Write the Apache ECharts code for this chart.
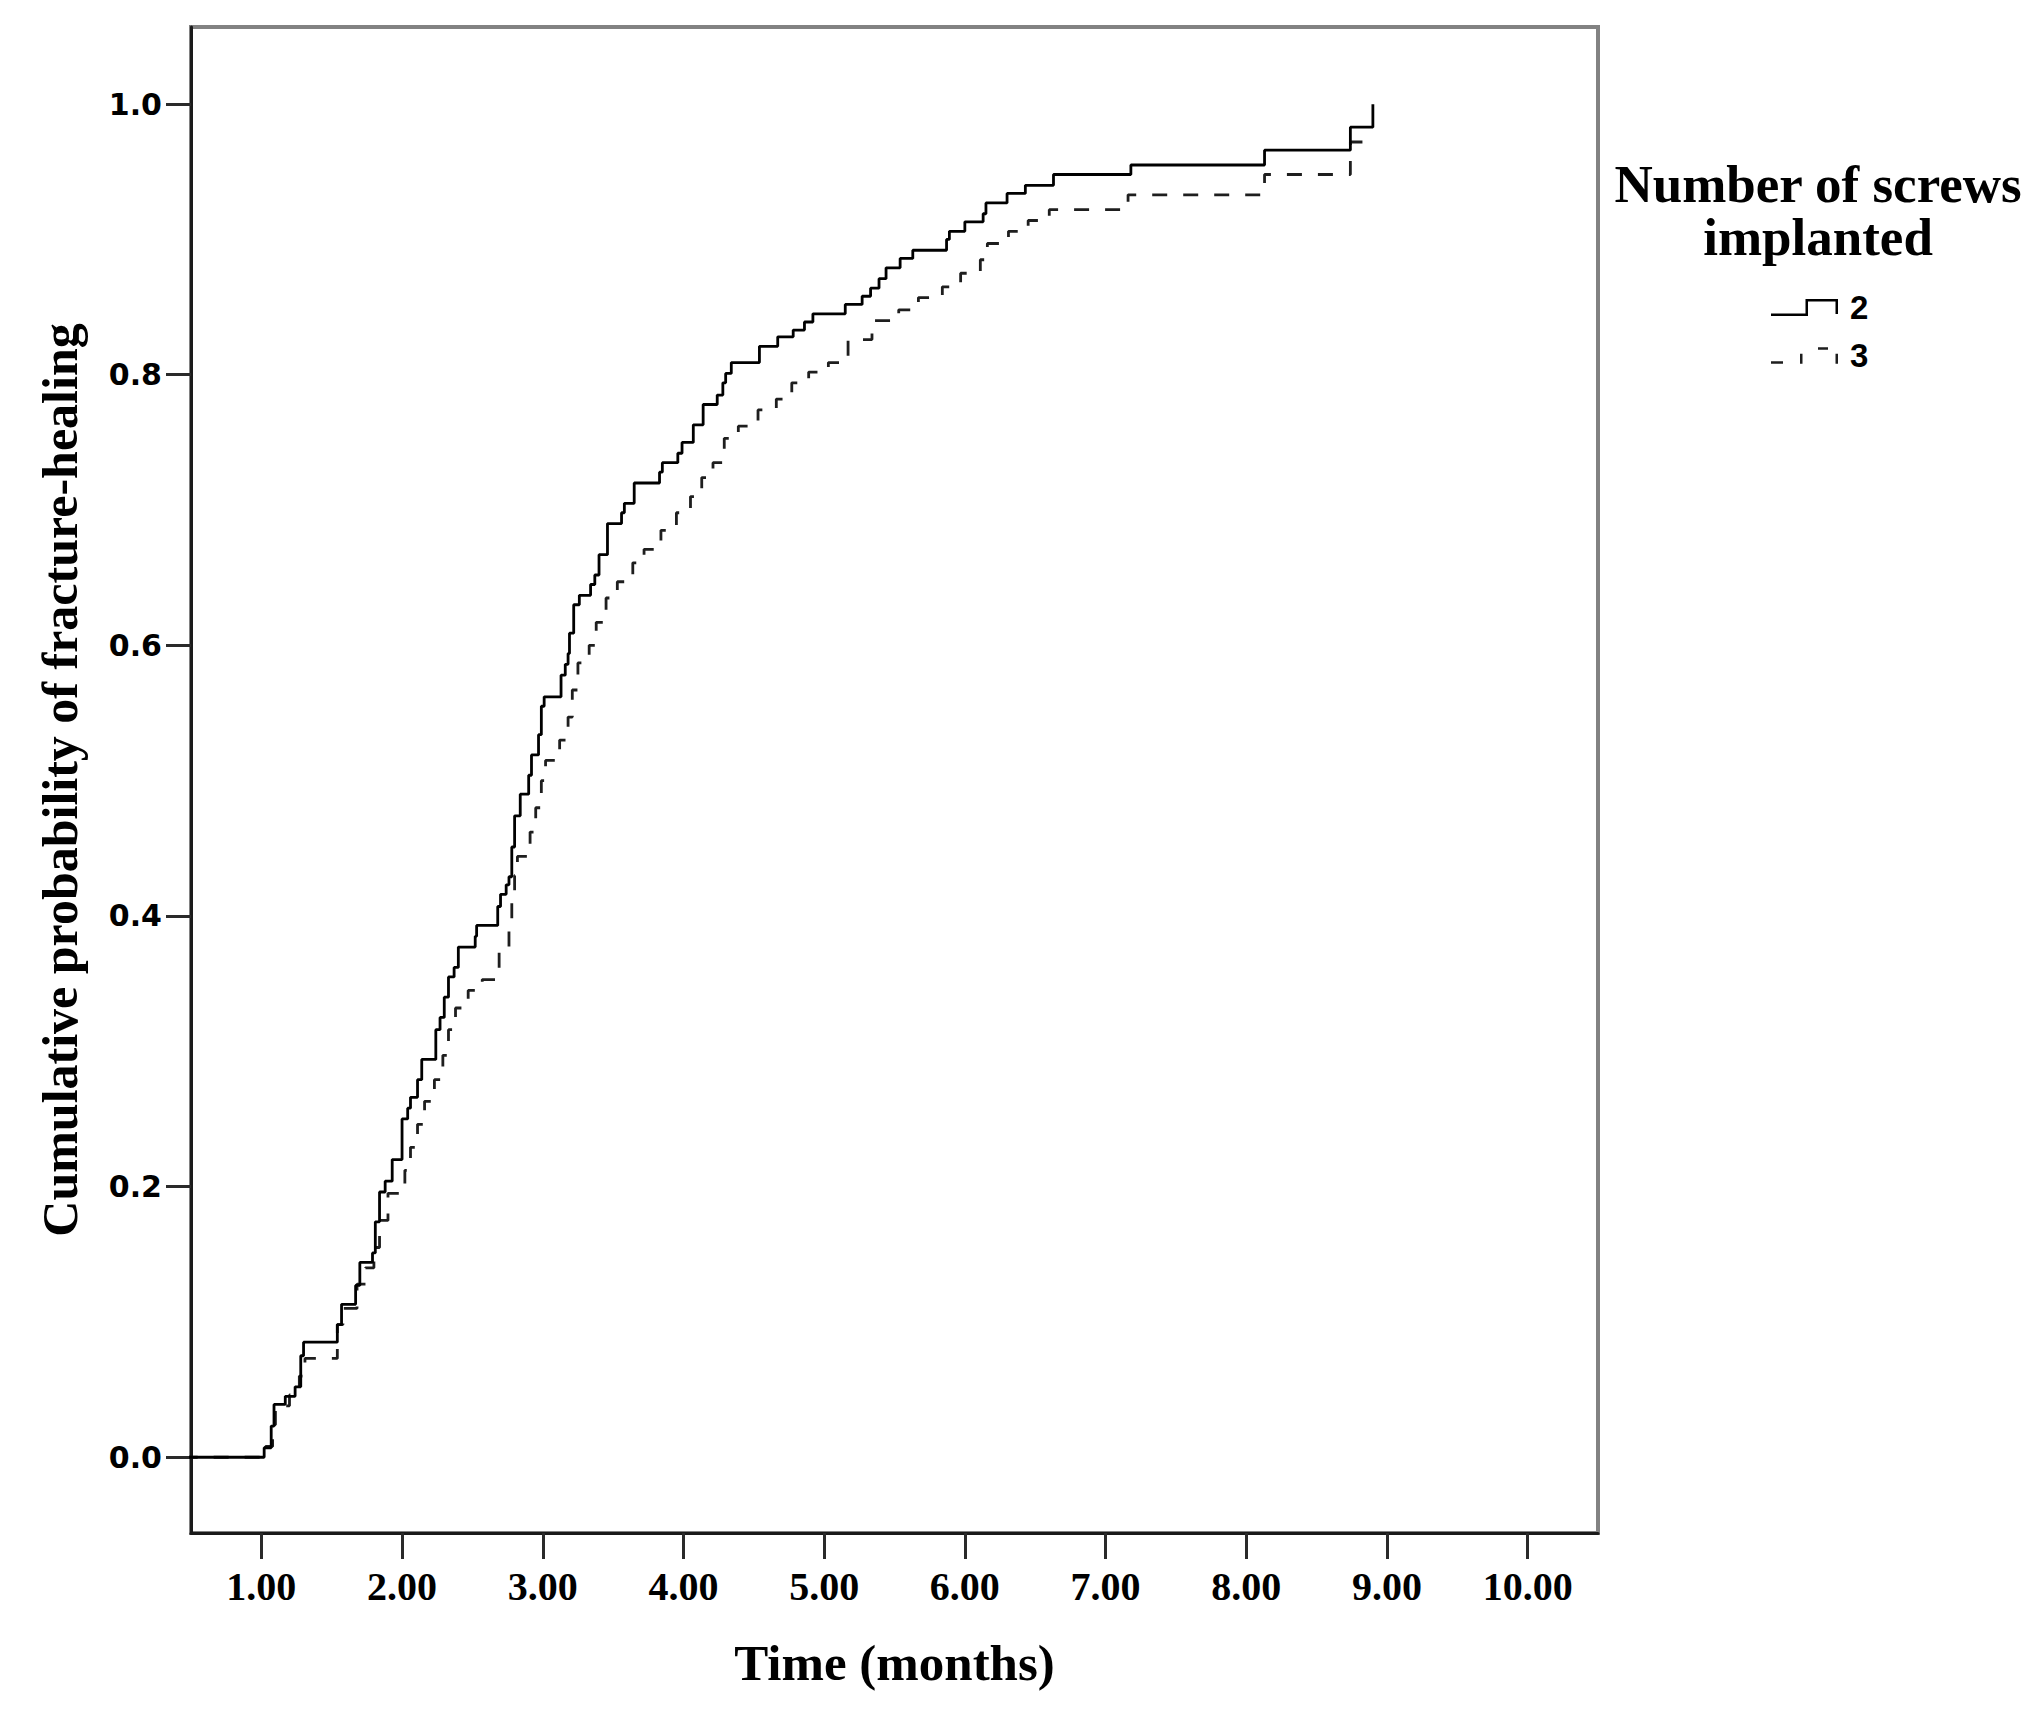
<!DOCTYPE html>
<html><head><meta charset="utf-8">
<script src="https://cdn.jsdelivr.net/npm/echarts@6/dist/echarts.min.js"></script>
<style>html,body{margin:0;padding:0;background:#fff}#chart{width:2037px;height:1714px}</style>
</head><body><div id="chart"></div>
<script>
// ---- data ----
const groupNames = ['2', '3'];
const times2 = [0, 1.00, 1.02, 1.07, 1.09, 1.17, 1.24, 1.28, 1.30, 1.54, 1.57, 1.67, 1.70, 1.79, 1.81, 1.84, 1.88, 1.93,
  2.00, 2.04, 2.06, 2.11, 2.14, 2.24, 2.27, 2.30, 2.33, 2.37, 2.40, 2.52, 2.53, 2.68, 2.70, 2.74, 2.76, 2.78, 2.80, 2.84,
  2.90, 2.92, 2.97, 2.99, 3.01, 3.13, 3.16, 3.18, 3.19, 3.22, 3.26, 3.34, 3.37, 3.40, 3.46, 3.56, 3.58, 3.65, 3.83, 3.85,
  3.96, 3.99, 4.07, 4.14, 4.24, 4.28, 4.30, 4.34, 4.54, 4.67, 4.78, 4.86, 4.92, 5.15, 5.27, 5.33, 5.39, 5.44, 5.54, 5.63,
  5.87, 5.89, 6.00, 6.13, 6.15, 6.30, 6.43, 6.63, 7.18, 8.13, 8.74, 8.90];
const probs2 = [0, 0, 0.007, 0.023, 0.039, 0.045, 0.052, 0.075, 0.085, 0.098, 0.113, 0.127, 0.144, 0.151, 0.174, 0.196, 0.204, 0.220,
  0.250, 0.258, 0.266, 0.279, 0.294, 0.316, 0.325, 0.340, 0.355, 0.362, 0.377, 0.385, 0.393, 0.407, 0.416, 0.423, 0.429, 0.451, 0.474, 0.490,
  0.504, 0.519, 0.534, 0.555, 0.562, 0.578, 0.586, 0.594, 0.609, 0.630, 0.637, 0.645, 0.652, 0.667, 0.690, 0.698, 0.705, 0.720, 0.728, 0.735,
  0.742, 0.750, 0.763, 0.778, 0.785, 0.794, 0.801, 0.809, 0.821, 0.828, 0.833, 0.839, 0.845, 0.852, 0.858, 0.864, 0.871, 0.879, 0.886, 0.892,
  0.900, 0.906, 0.913, 0.919, 0.927, 0.934, 0.940, 0.948, 0.955, 0.966, 0.983, 1.000];
const times3 = [0, 1.00, 1.03, 1.08, 1.10, 1.20, 1.27, 1.31, 1.54, 1.58, 1.68, 1.74, 1.80, 1.84, 1.90, 2.02, 2.06, 2.11, 2.16, 2.23,
  2.29, 2.33, 2.38, 2.47, 2.57, 2.69, 2.76, 2.78, 2.80, 2.82, 2.91, 2.95, 2.99, 3.02, 3.12, 3.18, 3.21, 3.25, 3.33, 3.38,
  3.45, 3.53, 3.64, 3.72, 3.84, 3.95, 4.05, 4.13, 4.21, 4.29, 4.39, 4.53, 4.66, 4.77, 4.89, 5.03, 5.17, 5.34, 5.53, 5.67,
  5.84, 5.97, 6.11, 6.16, 6.31, 6.45, 6.60, 7.16, 8.13, 8.74, 8.88];
const probs3 = [0, 0, 0.008, 0.024, 0.038, 0.046, 0.060, 0.073, 0.098, 0.110, 0.128, 0.140, 0.155, 0.175, 0.195, 0.212, 0.229, 0.246, 0.263, 0.279,
  0.297, 0.316, 0.332, 0.345, 0.353, 0.373, 0.391, 0.410, 0.430, 0.444, 0.462, 0.480, 0.500, 0.515, 0.530, 0.547, 0.567, 0.587, 0.600, 0.617,
  0.635, 0.647, 0.661, 0.671, 0.685, 0.698, 0.710, 0.724, 0.735, 0.753, 0.762, 0.774, 0.782, 0.794, 0.802, 0.809, 0.826, 0.840, 0.848, 0.857,
  0.865, 0.875, 0.885, 0.897, 0.906, 0.914, 0.922, 0.933, 0.948, 0.972, 0.972];
const xTicks = [1, 2, 3, 4, 5, 6, 7, 8, 9, 10];
const yTicks = [0, 0.2, 0.4, 0.6, 0.8, 1.0];
const xTitle = 'Time (months)';
const yTitle = 'Cumulative probability of fracture-healing';
const legendTitle = 'Number of screws\nimplanted';

// ---- chart ----
const chart = echarts.init(document.getElementById('chart'), null, {renderer: 'svg', width: 2037, height: 1714});
const serif = '"Liberation Serif", "Times New Roman", serif';
const icon2 = 'path://M0,14.5h36v2.5h-36z M34.5,0h2.5v17h-2.5z M34.5,0h32.5v2.5h-32.5z M64.5,0h2.5v15h-2.5z';
const icon3 = 'path://M0,14h12v2.5h-12z M29,6.5h2.5v10h-2.5z M47,0h10v2.5h-10z M64.5,6.5h2.5v10h-2.5z';

chart.setOption({
  animation: false,
  backgroundColor: '#ffffff',
  grid: {left: 191, right: 439, top: 27, bottom: 181, show: true, borderColor: '#828282', borderWidth: 4,
         backgroundColor: 'transparent', outerBoundsMode: 'none', containLabel: false},
  xAxis: {
    type: 'value', min: 0.5, max: 10.5,
    name: xTitle, nameLocation: 'middle', nameGap: 104, nameMoveOverlap: false,
    nameTextStyle: {fontFamily: serif, fontWeight: 'bold', fontSize: 51, color: '#000'},
    axisLine: {show: true, onZero: false, lineStyle: {color: '#1a1a1a', width: 3}},
    axisTick: {show: true, inside: false, length: 26, customValues: xTicks, lineStyle: {color: '#2a2a2a', width: 3}},
    axisLabel: {show: true, customValues: xTicks, margin: 33, fontFamily: serif, fontWeight: 'bold', fontSize: 40, color: '#000',
                formatter: v => Number(v).toFixed(2)},
    splitLine: {show: false}
  },
  yAxis: {
    type: 'value', min: -0.056, max: 1.057,
    name: yTitle, nameLocation: 'middle', nameGap: 106, nameRotate: 90, nameMoveOverlap: false,
    nameTextStyle: {fontFamily: serif, fontWeight: 'bold', fontSize: 50, color: '#000'},
    axisLine: {show: true, onZero: false, lineStyle: {color: '#1a1a1a', width: 3}},
    axisTick: {show: true, inside: false, length: 25, customValues: yTicks, lineStyle: {color: '#2a2a2a', width: 3}},
    axisLabel: {show: true, customValues: yTicks, margin: 29, fontFamily: '"DejaVu Sans", Verdana, sans-serif', fontWeight: 'bold', fontSize: 30, color: '#000',
                formatter: v => Number(v).toFixed(1)},
    splitLine: {show: false}
  },
  legend: {
    orient: 'vertical', left: 1771, top: 286, padding: 0, itemGap: 5, itemWidth: 67, itemHeight: 17,
    selectedMode: false,
    itemStyle: {borderWidth: 0},
    textStyle: {fontFamily: '"Liberation Sans", Arial, sans-serif', fontWeight: 'bold', fontSize: 33, lineHeight: 33, color: '#000', padding: [10, 0, 0, 7]},
    data: [{name: groupNames[0], icon: icon2}, {name: groupNames[1], icon: icon3}]
  },
  graphic: [{
    type: 'text', x: 1818, y: 157, z: 10,
    style: {text: legendTitle, align: 'center', verticalAlign: 'top', fill: '#000',
            font: 'bold 53px ' + serif, lineHeight: 53}
  }],
  series: [
    {
      name: groupNames[1], type: 'line', step: 'end', showSymbol: false, symbol: 'none', clip: true, z: 2,
      data: times3.map((t, i) => [t, probs3[i]]),
      itemStyle: {color: '#1e1e1e'},
      lineStyle: {color: '#1e1e1e', width: 2.8, type: [15, 16]}
    },
    {
      name: groupNames[0], type: 'line', step: 'end', showSymbol: false, symbol: 'none', clip: true, z: 3,
      data: times2.map((t, i) => [t, probs2[i]]),
      itemStyle: {color: '#000'},
      lineStyle: {color: '#000', width: 2.8, type: 'solid'}
    }
  ]
});
</script></body></html>
